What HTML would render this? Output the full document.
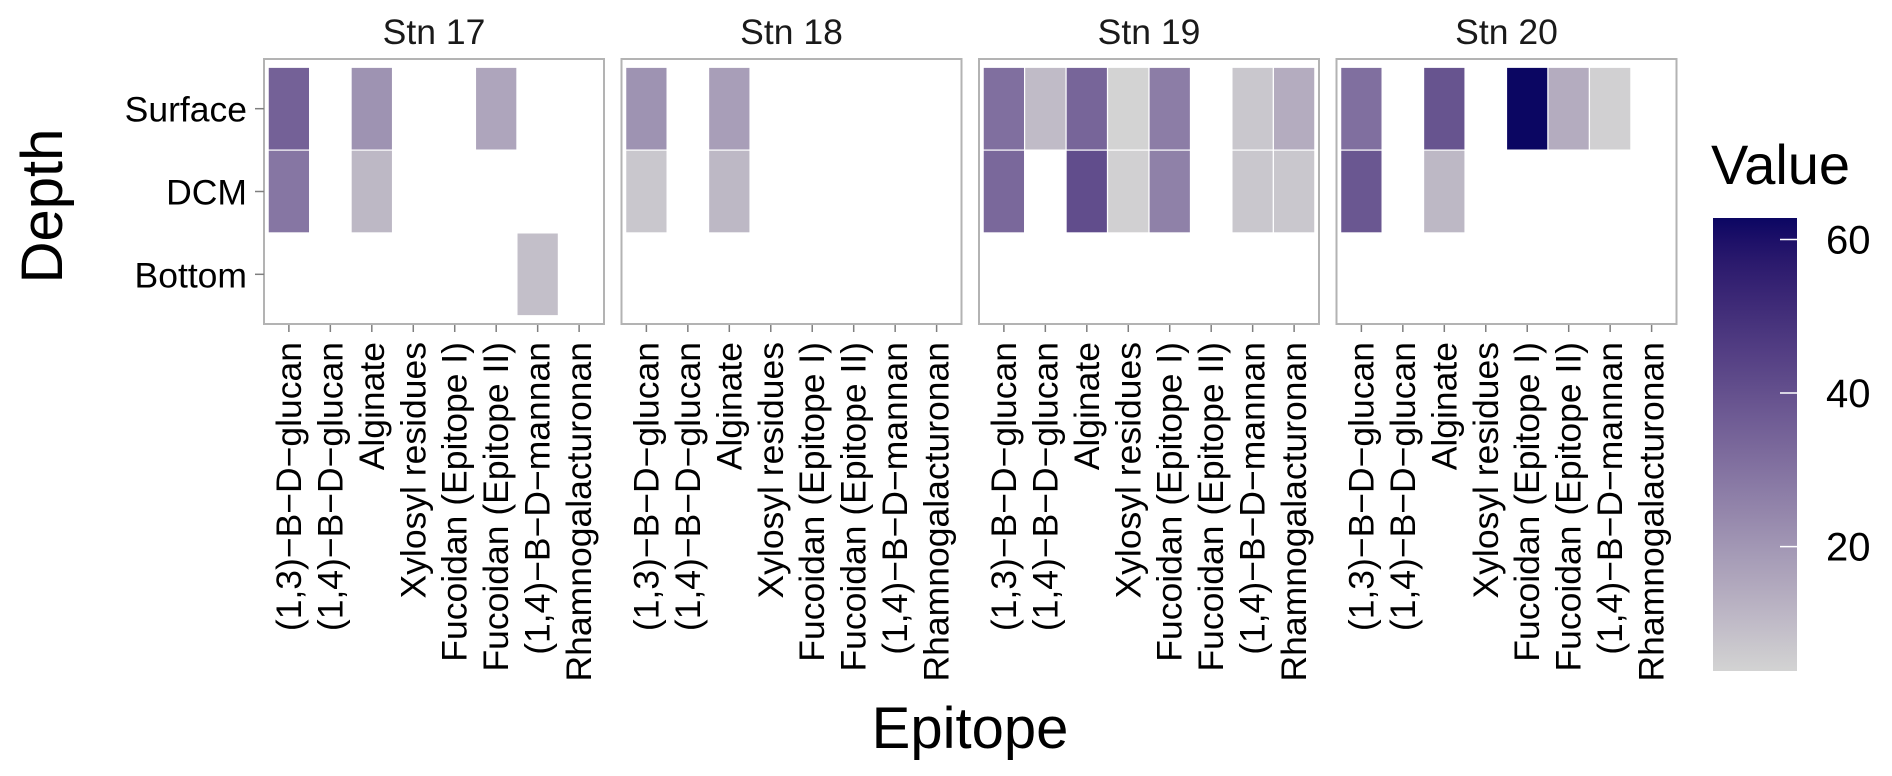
<!DOCTYPE html>
<html><head><meta charset="utf-8"><style>
html,body{margin:0;padding:0;background:#fff;}
svg{display:block;font-family:"Liberation Sans",Arial,sans-serif;}
</style></head><body>
<svg id="chart" width="1892" height="776" viewBox="0 0 1892 776" xmlns="http://www.w3.org/2000/svg">
<g id="panels"></g>
<g id="legend"></g>
<text x="970" y="748" font-size="58" text-anchor="middle" fill="#000">Epitope</text>
<text transform="translate(62,206) rotate(-90)" font-size="58" text-anchor="middle" fill="#000">Depth</text>
</svg>
<script>
const stations = ["Stn 17","Stn 18","Stn 19","Stn 20"];
const depths = ["Surface","DCM","Bottom"];
const epitopes = ["(1,3)−B−D−glucan","(1,4)−B−D−glucan","Alginate","Xylosyl residues","Fucoidan (Epitope I)","Fucoidan (Epitope II)","(1,4)−B−D−mannan","Rhamnogalacturonan"];
const cellStation = [0,0,0,0,0,0, 1,1,1,1, 2,2,2,2,2,2,2,2,2,2,2,2,2, 3,3,3,3,3,3,3];
const cellDepth   = [0,1,0,1,0,2, 0,1,0,1, 0,1,0,0,1,0,1,0,1,0,1,0,1, 0,1,0,1,0,0,0];
const cellEpitope = [0,0,2,2,5,6, 0,0,2,2, 0,0,1,2,2,3,3,4,4,6,6,7,7, 0,0,2,2,4,5,6];
const cellValue   = [35,29,21,11,16,9, 21,7,18,11, 31,33,10,34,41,3.8,4.5,27,26,7,7,14,7, 31,38,39,11,62.8,14,4.5];
const legendTicks = [20,40,60];

const NS="http://www.w3.org/2000/svg";
function mk(tag,attrs,parent){const e=document.createElementNS(NS,tag);for(const k in attrs)e.setAttribute(k,attrs[k]);parent.appendChild(e);return e;}
function toLab(h){let r=parseInt(h.slice(1,3),16)/255,g=parseInt(h.slice(3,5),16)/255,b=parseInt(h.slice(5,7),16)/255;
 const f=c=>c<=0.04045?c/12.92:Math.pow((c+0.055)/1.055,2.4);r=f(r);g=f(g);b=f(b);
 let X=(0.4124*r+0.3576*g+0.1805*b)/0.95047,Y=(0.2126*r+0.7152*g+0.0722*b),Z=(0.0193*r+0.1192*g+0.9505*b)/1.08883;
 const q=t=>t>0.008856?Math.cbrt(t):7.787*t+16/116;X=q(X);Y=q(Y);Z=q(Z);return [116*Y-16,500*(X-Y),200*(Y-Z)];}
function fromLab(L,a,bb){let Y=(L+16)/116,X=a/500+Y,Z=Y-bb/200;const q=t=>t*t*t>0.008856?t*t*t:(t-16/116)/7.787;
 X=q(X)*0.95047;Y=q(Y);Z=q(Z)*1.08883;let r=3.2406*X-1.5372*Y-0.4986*Z,g=-0.9689*X+1.8758*Y+0.0415*Z,b=0.0557*X-0.204*Y+1.057*Z;
 const f=c=>{c=c<=0.0031308?12.92*c:1.055*Math.pow(c,1/2.4)-0.055;return Math.max(0,Math.min(255,Math.round(c*255)));};
 return `rgb(${f(r)},${f(g)},${f(b)})`;}
const lowLab=toLab("#d3d3d3"),highLab=toLab("#0b0662");
const vMin=Math.min(...cellValue),vMax=Math.max(...cellValue);
function color(v){const t=(v-vMin)/(vMax-vMin);return fromLab(lowLab[0]+t*(highLab[0]-lowLab[0]),lowLab[1]+t*(highLab[1]-lowLab[1]),lowLab[2]+t*(highLab[2]-lowLab[2]));}

const P={left:264,stride:357.5,w:340,top:59,h:265};
const FS=35.5;
const ux=P.w/(epitopes.length-1+1.2), uy=P.h/(depths.length-1+1.2);
const xPos=(s,i)=>P.left+s*P.stride+(0.6+i)*ux;
const yPos=i=>P.top+(0.6+i)*uy;
const panels=document.getElementById('panels');

stations.forEach((st,s)=>{
 const g=mk('g',{},panels);
 
 
 const x0=P.left+s*P.stride;
 const lab=mk('text',{x:x0+P.w/2,y:44,'font-size':FS,'text-anchor':'middle',fill:'#1a1a1a'},g);
 lab.textContent=st;
 
 
 const bg=mk('rect',{x:x0,y:P.top,width:P.w,height:P.h,fill:'#fff'},g);
 
 
 epitopes.forEach((ep,i)=>{
  const x=xPos(s,i);
  const tk=mk('line',{x1:x,x2:x,y1:P.top+P.h,y2:P.top+P.h+8,stroke:'#7f7f7f','stroke-width':1.5},g);
  
  
  const t=mk('text',{transform:`translate(${x+12},${P.top+P.h+18}) rotate(-90)`,'font-size':FS,'text-anchor':'end',fill:'#000'},g);
  t.textContent=ep;
  
  
 });
});
cellValue.forEach((v,k)=>{
 const x=xPos(cellStation[k],cellEpitope[k]),y=yPos(cellDepth[k]);
 const r=mk('rect',{x:x-ux/2,y:y-uy/2,width:ux,height:uy,fill:color(v),stroke:'#fff','stroke-width':1.2},panels);
 
 
});
stations.forEach((st,s)=>{
 const x0=P.left+s*P.stride;
 const b=mk('rect',{x:x0,y:P.top,width:P.w,height:P.h,fill:'none',stroke:'#b3b3b3','stroke-width':2},panels);
 
 
});
depths.forEach((d,i)=>{
 const y=yPos(i);
 const tk=mk('line',{x1:P.left-9,x2:P.left,y1:y,y2:y,stroke:'#7f7f7f','stroke-width':1.5},panels);
 
 
 const t=mk('text',{x:P.left-17,y:y+13,'font-size':FS,'text-anchor':'end',fill:'#000'},panels);
 t.textContent=d;
 
 
});
const L={x:1713,w:84,top:218,bot:671};
const lg=document.getElementById('legend');
const title=mk('text',{x:1711,y:184,'font-size':56,fill:'#000'},lg);
title.textContent='Value';


const defs=mk('defs',{},lg);
const grad=mk('linearGradient',{id:'lg',x1:0,y1:1,x2:0,y2:0},defs);
for(let i=0;i<=20;i++){const v=vMin+(vMax-vMin)*i/20;mk('stop',{offset:(i/20),'stop-color':color(v)},grad);}
const bar=mk('rect',{x:L.x,y:L.top,width:L.w,height:L.bot-L.top,fill:'url(#lg)'},lg);


const ly=v=>L.bot-(v-vMin)/(vMax-vMin)*(L.bot-L.top);
legendTicks.forEach(v=>{
 const y=ly(v);
 const tk=mk('line',{x1:L.x+L.w-17,x2:L.x+L.w,y1:y,y2:y,stroke:'#fff','stroke-width':1.5},lg);
 
 
 const t=mk('text',{x:1826,y:y+14,'font-size':40,fill:'#000'},lg);
 t.textContent=String(v);
 
 
});
</script>
</body></html>
